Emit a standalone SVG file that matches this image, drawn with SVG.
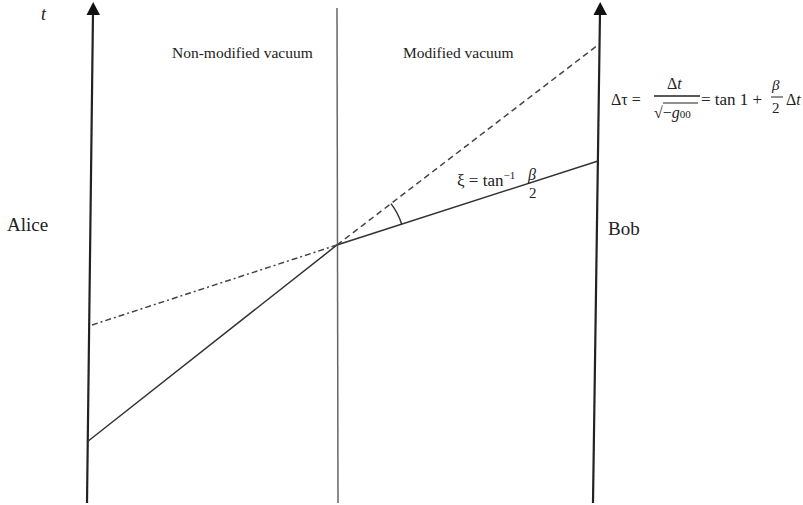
<svg xmlns="http://www.w3.org/2000/svg" width="803" height="505" viewBox="0 0 803 505">
<style>
.txt{font-family:"Liberation Serif","DejaVu Serif",serif;fill:#222}
.it{font-style:italic}
.axis{stroke:#222;stroke-width:2.2;fill:none}
.solid{stroke:#333;stroke-width:1.5;fill:none}
.dash{stroke:#444;stroke-width:1.5;fill:none;stroke-dasharray:6 4}
.dashdot{stroke:#444;stroke-width:1.5;fill:none;stroke-dasharray:6 3 2 3}
.head{fill:#111}
</style>
<rect width="803" height="505" fill="#fff"/>
<g id="alice-axis">
<line class="axis" x1="87" y1="503" x2="93" y2="12"/>
<polygon class="head" points="93.2,2 100,15 86.5,15"/>
</g>
<g id="boundary">
<line x1="337" y1="8" x2="338" y2="503" stroke="#666" stroke-width="1.5"/>
</g>
<g id="bob-axis">
<line class="axis" x1="593" y1="503" x2="600" y2="12"/>
<polygon class="head" points="600.2,2 607,15 593.5,15"/>
</g>
<g id="connectors">
<polyline class="solid" points="87,442 337,245 598,161"/>
<line class="dash" x1="337" y1="245" x2="598" y2="45"/>
<line class="dashdot" x1="92" y1="325" x2="337" y2="245"/>
<path class="solid" d="M390.96 203.64 A68 68 0 0 1 401.71 224.17"/>
</g>
<g id="labels">
<text class="txt it" x="41" y="20" font-size="18">t</text>
<text class="txt" x="7" y="231" font-size="19">Alice</text>
<text class="txt" x="608" y="235" font-size="19">Bob</text>
<text class="txt" x="172" y="58" font-size="15.5">Non-modified vacuum</text>
<text class="txt" x="403" y="58" font-size="15.5">Modified vacuum</text>
</g>
<g id="angle-label">
<text class="txt" x="457" y="186" font-size="17">ξ = tan<tspan font-size="11" dy="-7">−1</tspan></text>
<text class="txt it" x="528" y="180" font-size="16">β</text>
<text class="txt" x="529" y="198" font-size="15">2</text>
</g>
<g id="formula">
<text class="txt" x="611" y="105" font-size="16">Δτ =</text>
<text class="txt" x="667" y="89" font-size="16">Δ<tspan class="it">t</tspan></text>
<line x1="654" y1="96" x2="700" y2="96" stroke="#222" stroke-width="1.3"/>
<text class="txt" x="654" y="118" font-size="16">√−<tspan class="it">g</tspan><tspan font-size="11">00</tspan></text>
<line x1="663" y1="103" x2="698" y2="103" stroke="#222" stroke-width="1"/>
<text class="txt" x="701" y="105" font-size="17">= tan 1 +</text>
<text class="txt it" x="772" y="90" font-size="15">β</text>
<line x1="771" y1="97" x2="783" y2="97" stroke="#222" stroke-width="1"/>
<text class="txt" x="772" y="113" font-size="15">2</text>
<text class="txt" x="786" y="105" font-size="16">Δ<tspan class="it">t</tspan></text>
</g>
</svg>
